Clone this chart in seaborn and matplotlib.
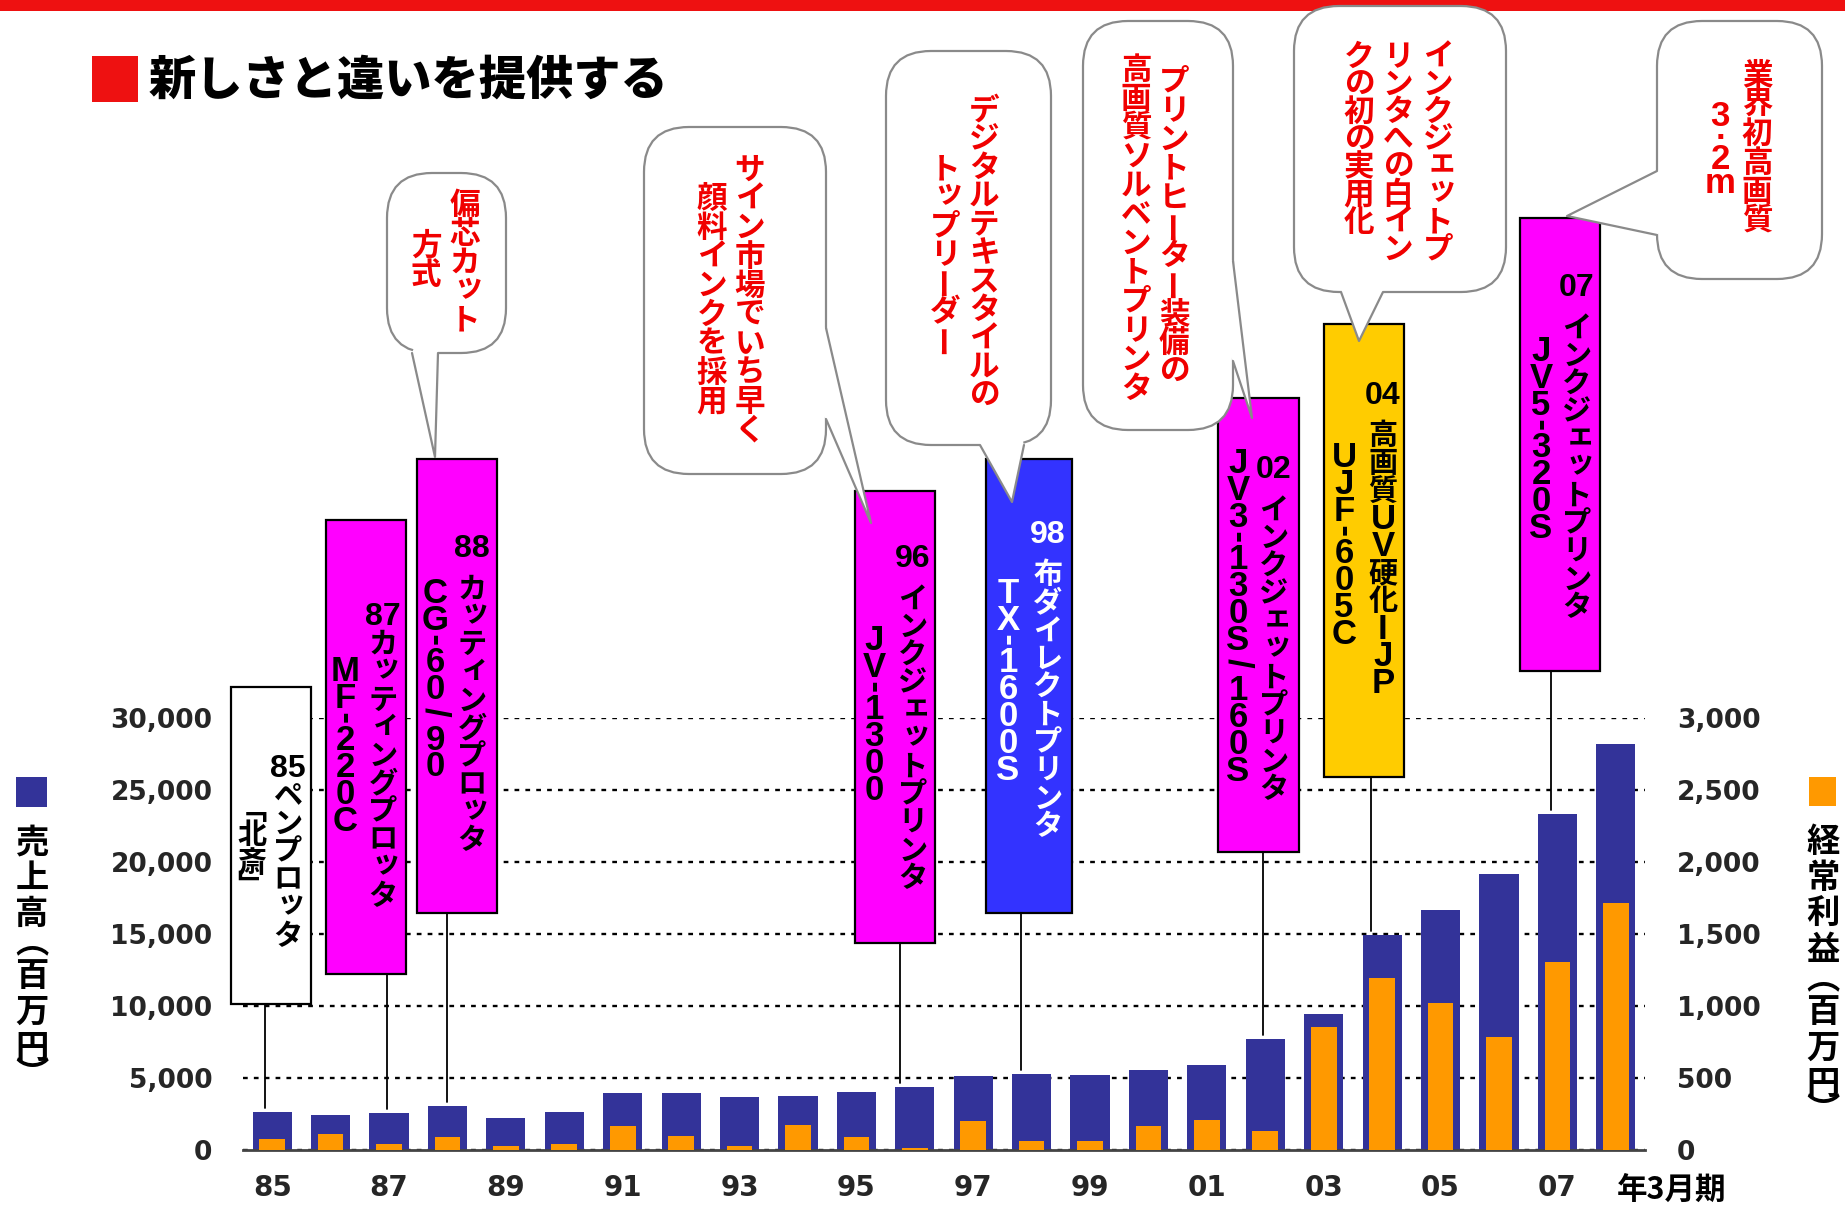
import numpy as np
import pandas as pd
import matplotlib
matplotlib.use("Agg")
import matplotlib.pyplot as plt
from matplotlib.patches import Rectangle, FancyBboxPatch, Polygon
import seaborn as sns

# 年3月期 / 売上高(百万円) / 経常利益(百万円)
years = ["85", "86", "87", "88", "89", "90", "91", "92", "93", "94", "95", "96",
         "97", "98", "99", "00", "01", "02", "03", "04", "05", "06", "07", "08"]
sales = [2640, 2430, 2570, 3060, 2220, 2640, 3960, 3960, 3680, 3750, 4030, 4380,
         5140, 5280, 5210, 5560, 5910, 7710, 9450, 14940, 16680, 19180, 23350, 28210]
profit = [76, 111, 42, 90, 28, 42, 167, 97, 28, 174, 90, 14,
          202, 62, 62, 167, 208, 132, 855, 1195, 1022, 785, 1306, 1716]
sales_ticks = [0, 5000, 10000, 15000, 20000, 25000, 30000]
profit_ticks = [0, 500, 1000, 1500, 2000, 2500, 3000]

NAVY = "#333399"
ORANGE = "#FF9900"
MAGENTA = "#FF00FF"
BLUEBOX = "#3333FF"
YELLOW = "#FFCC00"
RED = "#F00000"
GREY = "#8a8a8a"

CJK = "Noto Sans CJK JP"
LAT = "Liberation Sans"
TICK = "DejaVu Sans"

sns.set_style("white")
plt.rcParams["font.family"] = [TICK, CJK]
plt.rcParams["font.weight"] = "bold"

df = pd.DataFrame({"year": years, "sales": sales, "profit": profit})

fig = plt.figure(figsize=(18.45, 12.05), dpi=100)
ax = fig.add_axes([243 / 1845, 55 / 1205, 1402 / 1845, 432 / 1205])
sns.barplot(data=df, x="year", y="sales", order=years, color=NAVY, saturation=1,
            width=0.67, errorbar=None, linewidth=0, ax=ax)
ax2 = ax.twinx()
sns.barplot(data=df, x="year", y="profit", order=years, color=ORANGE, saturation=1,
            width=0.44, errorbar=None, linewidth=0, ax=ax2)

ax.set_xlim(-0.5, len(years) - 0.5)
ax.set_ylim(0, 30000)
ax2.set_ylim(0, 3000)
ax.set_yticks(sales_ticks)
ax.set_yticklabels([f"{v:,}" for v in sales_ticks])
ax2.set_yticks(profit_ticks)
ax2.set_yticklabels([f"{v:,}" for v in profit_ticks])
ax.set_xticks(range(0, len(years), 2))
ax.set_xticklabels(years[::2])
ax.set_xticks(np.arange(-0.5, len(years), 1), minor=True)
for a in (ax, ax2):
    a.set_xlabel("")
    a.set_ylabel("")
    for side in ("top", "left", "right"):
        a.spines[side].set_visible(False)
ax2.spines["bottom"].set_visible(False)
ax.spines["bottom"].set_color("#444444")
ax.spines["bottom"].set_linewidth(2)

ax.set_axisbelow(True)
ax.yaxis.grid(True, color="black", linestyle=(0, (2.0, 2.6)), linewidth=1.7)
ax.xaxis.grid(False)
ax2.grid(False)

ax.tick_params(axis="y", length=0, pad=22, labelsize=19)
ax2.tick_params(axis="y", length=0, pad=23, labelsize=19)
ax.tick_params(axis="x", which="major", length=0, pad=17, labelsize=20)
ax.tick_params(axis="x", which="minor", direction="in", length=7, width=1.3, color="#444444")

# overlay in pixel units of the picture
ov = fig.add_axes([0, 0, 1, 1])
ov.set_xlim(0, 1845)
ov.set_ylim(1205, 0)
ov.axis("off")
ov.patch.set_visible(False)


def to_px(i, v):
    disp = ax.transData.transform((i, v))
    return ov.transData.inverted().transform(disp)


SMALL = set("ッィェャュョァォ")
# vertical presentation forms of brackets
VFORM = {"「": "\ufe41", "」": "\ufe42", "（": "\ufe35", "）": "\ufe36"}
ROT = {"ー": 90, "-": 90, "/": -90}


def tokens(s):
    out = []
    i = 0
    if len(s) >= 2 and s[:2].isdigit() and (len(s) == 2 or not s[2].isascii() or s[2] == " "):
        out.append(s[:2])
        i = 2
    out.extend(list(s[i:]))
    return out


def vcol(x, y, s, size, color, pitch, asize=None, ysize=None, z=6):
    em = size * 100 / 72
    asize = asize or size * 1.1
    ysize = ysize or size
    aem = asize * 100 / 72
    yem = ysize * 100 / 72
    for tok in tokens(s):
        if tok == " ":
            y += 0.45 * pitch
            continue
        if tok == "-":
            step = 0.55 * pitch
        elif tok == "/":
            step = 0.85 * pitch
        elif tok == ".":
            step = 0.5 * pitch
        elif tok in VFORM:
            step = 0.7 * pitch
        elif len(tok) == 1 and tok.isascii():
            step = 0.96 * pitch
        else:
            step = pitch
        cy = y + step / 2
        if tok in ROT:
            fam = LAT if tok.isascii() else CJK
            fs = asize if tok.isascii() else size
            ov.text(x, cy, tok, rotation=ROT[tok], ha="center", va="center",
                    fontsize=fs, family=fam, color=color, zorder=z)
        elif tok in VFORM:
            ov.text(x, cy, VFORM[tok], ha="center", va="center",
                    fontsize=size, family=CJK, color=color, zorder=z)
        elif len(tok) == 2:
            ov.text(x, cy + 0.358 * yem, tok, ha="center", va="baseline",
                    fontsize=ysize, family=LAT, color=color, zorder=z)
        elif tok.isascii():
            off = 0.26 * aem if tok == "m" else (0.1 * aem if tok == "." else 0.358 * aem)
            ov.text(x, cy + off, tok, ha="center", va="baseline",
                    fontsize=asize, family=LAT, color=color, zorder=z)
        elif tok in SMALL:
            ov.text(x + 0.12 * em, cy + 0.22 * em, tok, ha="center", va="baseline",
                    fontsize=size, family=CJK, color=color, zorder=z)
        else:
            ov.text(x, cy + 0.37 * em, tok, ha="center", va="baseline",
                    fontsize=size, family=CJK, color=color, zorder=z)
        y += step


# product boxes: year, box, face, text colour, leader x, columns
boxes = [
    ("85", (231, 687, 311, 1004), "white", "black", 265,
     [(288, 752, "85ペンプロッタ"), (252, 800, "「北斎」")]),
    ("87", (326, 520, 406, 974), MAGENTA, "black", 387,
     [(383, 600, "87カッティングプロッタ"), (345, 655, "MF-220C")]),
    ("88", (417, 459, 497, 913), MAGENTA, "black", 447,
     [(472, 532, "88 カッティングプロッタ"), (435, 577, "CG-60/90")]),
    ("96", (855, 491, 935, 943), MAGENTA, "black", 900,
     [(913, 542, "96 インクジェットプリンタ"), (874, 624, "JV-1300")]),
    ("98", (986, 459, 1072, 913), BLUEBOX, "white", 1021,
     [(1048, 518, "98 布ダイレクトプリンタ"), (1008, 577, "TX-1600S")]),
    ("02", (1218, 398, 1299, 852), MAGENTA, "black", 1263,
     [(1274, 453, "02 インクジェットプリンタ"), (1238, 447, "JV3-130S/160S")]),
    ("04", (1324, 324, 1404, 777), YELLOW, "black", 1371,
     [(1383, 379, "04 高画質UV硬化IJP"), (1344, 441, "UJF-605C")]),
    ("07", (1520, 218, 1600, 671), MAGENTA, "black", 1551,
     [(1577, 271, "07 インクジェットプリンタ"), (1541, 335, "JV5-320S")]),
]

for yr, (x0, y0, x1, y1), face, tc, lx, cols in boxes:
    i = years.index(yr)
    _, yend = to_px(i, sales[i] + 250)
    ov.plot([lx, lx], [y1, yend], color="black", lw=1.3, zorder=2)
    ov.add_patch(Rectangle((x0, y0), x1 - x0, y1 - y0, facecolor=face,
                           edgecolor="black", lw=1.6, zorder=3))
    for cx, cy, s in cols:
        vcol(cx, cy, s, 21, tc, 28, asize=25, ysize=23, z=3.5)

# speech bubbles: box, pointer (base, tip, base), pitch, columns
bubbles = [
    ((387, 173, 506, 353), [(412, 353), (435, 457), (438, 353)], 29,
     [(465, 188, "偏芯カット"), (426, 229, "方式")]),
    ((644, 127, 826, 474), [(826, 328), (871, 523), (826, 419)], 29,
     [(750, 153, "サイン市場でいち早く"), (712, 182, "顔料インクを採用")]),
    ((886, 51, 1051, 445), [(980, 445), (1012, 502), (1024, 445)], 28.5,
     [(984, 94, "デジタルテキスタイルの"), (945, 153, "トップリーダー")]),
    ((1083, 21, 1233, 430), [(1233, 261), (1252, 418), (1233, 361)], 29,
     [(1174, 65, "プリントヒーター装備の"), (1136, 53, "高画質ソルベントプリンタ")]),
    ((1294, 6, 1506, 292), [(1341, 292), (1359, 341), (1383, 292)], 27.5,
     [(1438, 41, "インクジェットプ"), (1398, 41, "リンタへの白イン"), (1359, 41, "クの初の実用化")]),
    ((1657, 21, 1822, 279), [(1657, 171), (1567, 216), (1657, 235)], 29,
     [(1757, 59, "業界初高画質"), (1720, 100, "3.2m")]),
]

for (x0, y0, x1, y1), ptr, pitch, cols in bubbles:
    ov.add_patch(FancyBboxPatch((x0, y0), x1 - x0, y1 - y0,
                                boxstyle="round,pad=0,rounding_size=45",
                                facecolor="white", edgecolor=GREY, lw=1.6, zorder=4))
    cxm, cym = (x0 + x1) / 2, (y0 + y1) / 2
    b1, tip, b2 = [np.array(p, dtype=float) for p in ptr]
    c = np.array([cxm, cym])
    b1i = b1 + 5 * (c - b1) / np.linalg.norm(c - b1)
    b2i = b2 + 5 * (c - b2) / np.linalg.norm(c - b2)
    ov.add_patch(Polygon([b1i, b1, tip, b2, b2i], closed=True, facecolor="white",
                         edgecolor="none", zorder=4.2))
    ov.plot([b1[0], tip[0], b2[0]], [b1[1], tip[1], b2[1]], color=GREY, lw=1.6, zorder=4.3)
    for cx, cy, s in cols:
        vcol(cx, cy, s, 22, RED, pitch, asize=25, z=5)

# heading
ov.add_patch(Rectangle((0, 0), 1845, 11, facecolor="#EE1111", edgecolor="none", zorder=1))
ov.add_patch(Rectangle((92, 56), 46, 46, facecolor="#EE1111", edgecolor="none", zorder=1))
ov.text(149, 80, "新しさと違いを提供する", ha="left", va="center", fontsize=34,
        family=CJK, fontweight="heavy", color="black")

# axis titles
ov.add_patch(Rectangle((16, 777), 31, 30, facecolor=NAVY, edgecolor="none"))
vcol(32, 822, "売上高（百万円）", 24, "black", 36)
ov.add_patch(Rectangle((1809, 777), 27, 29, facecolor=ORANGE, edgecolor="none"))
vcol(1823, 822, "経常利益（百万円）", 24, "black", 36)
ov.text(1672, 1190, "年3月期", ha="center", va="center", fontsize=22,
        family=CJK, color="black")

fig.savefig("out.png", dpi=100)
